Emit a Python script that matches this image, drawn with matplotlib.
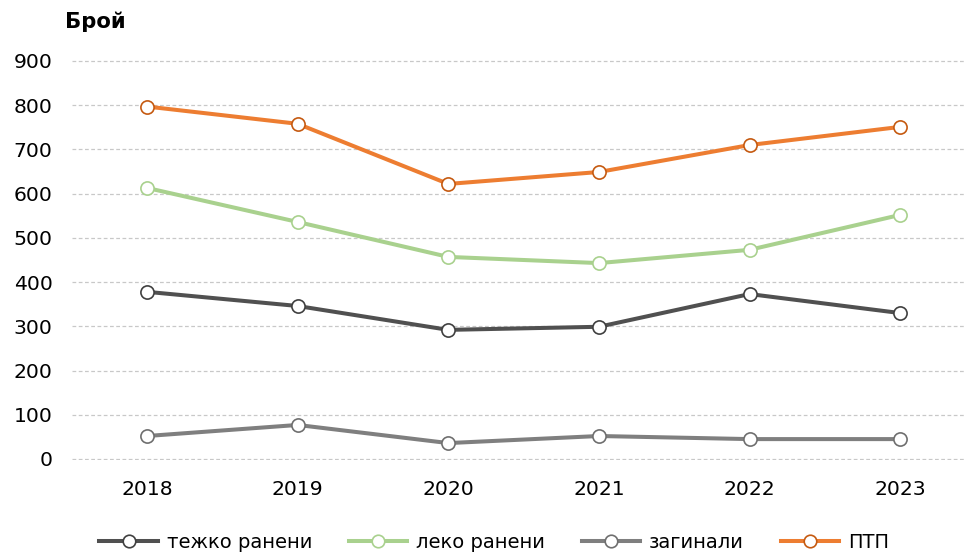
import matplotlib.pyplot as plt

years = ['2018', '2019', '2020', '2021', '2022', '2023']
tezhko = [378, 346, 292, 299, 373, 330]
leko = [613, 536, 457, 443, 473, 552]
zaginali = [52, 77, 36, 52, 45, 45]
ptp = [797, 758, 622, 649, 710, 751]

series = [
    ('тежко ранени', tezhko, '#505050', '#404040'),
    ('леко ранени', leko, '#a9d18e', '#a9d18e'),
    ('загинали', zaginali, '#7f7f7f', '#6f6f6f'),
    ('ПТП', ptp, '#ed7d31', '#c55a11'),
]

plt.rcParams['font.family'] = ['DejaVu Sans']

fig = plt.figure(figsize=(9.67, 5.53), dpi=100)
# y from -3 to 903 so the 0 and 900 gridlines are not clipped
px = (459 - 61) / 900
ax = fig.add_axes([72 / 967, 1 - (459 + 3 * px) / 553, (965 - 72) / 967, (906 * px) / 553])

x = list(range(len(years)))
for label, vals, col, edge in series:
    ax.plot(x, vals, color=col, lw=2.9, marker='o', ms=9.5, mfc='white',
            mec=edge, mew=1.2, label=label, zorder=3)

ax.set_xlim(-0.498, 5.43)
ax.set_ylim(-3, 903)
ax.set_yticks(range(0, 901, 100))
ax.set_xticks(x)
ax.set_xticklabels(years)
ax.grid(axis='y', color='#c8c8c8', ls='--', lw=0.9, dashes=(3, 2))
ax.set_axisbelow(True)
for s in ax.spines.values():
    s.set_visible(False)
ax.tick_params(length=0, labelsize=14.7, colors='black')
ax.tick_params(axis='x', pad=14)
ax.tick_params(axis='y', pad=14)

fig.text(65 / 967, 1 - 22 / 553, 'Брой', fontsize=15.2, fontweight='bold', va='center')

fig.legend(loc='center', bbox_to_anchor=(0.511, 1 - 542 / 553), ncol=4, frameon=False,
           fontsize=14, handlelength=3.0, columnspacing=1.9, handletextpad=0.45,
           markerscale=0.95)

fig.savefig('out.png', dpi=100)
